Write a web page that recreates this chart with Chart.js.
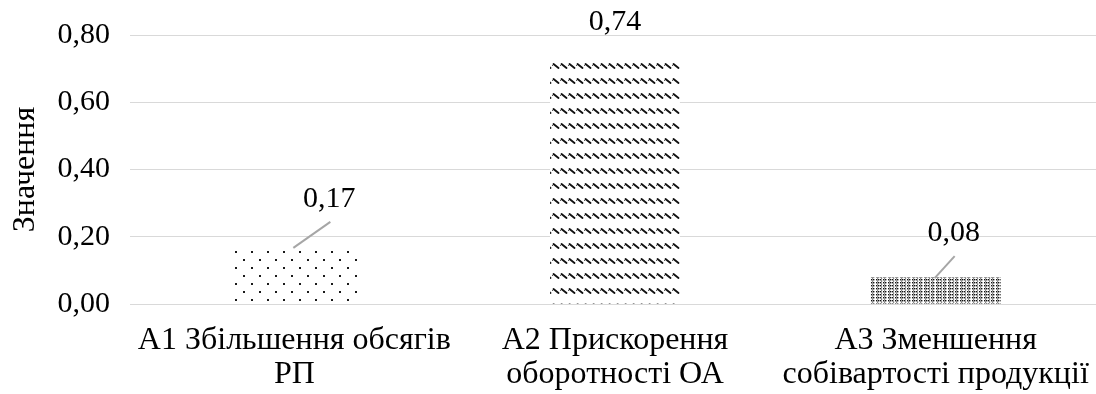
<!DOCTYPE html>
<html>
<head>
<meta charset="utf-8">
<script src="https://cdn.jsdelivr.net/npm/chart.js@4/dist/chart.umd.min.js"></script>
<style>
  html, body { margin: 0; padding: 0; background: #fff; }
  #wrap { width: 1096px; height: 394px; position: relative; }
</style>
</head>
<body>
<div id="wrap"><canvas id="chart" width="1096" height="394"></canvas></div>
<script>
// Categories (two-line labels) and values
const categories = [
  ['А1 Збільшення обсягів', 'РП'],
  ['А2 Прискорення', 'оборотності ОА'],
  ['А3 Зменшення', 'собівартості продукції']
];
const values = [0.17, 0.74, 0.08];
const yTicks = [0, 0.2, 0.4, 0.6, 0.8];
const axisTitle = 'Значення';

const FONT = '"Liberation Serif", "Times New Roman", serif';
const fmt = v => v.toFixed(2).replace('.', ',');

// Hatch fills for each bar
function makePattern(w, h, draw) {
  const c = document.createElement('canvas');
  c.width = w; c.height = h;
  const g = c.getContext('2d');
  g.fillStyle = '#fff';
  g.fillRect(0, 0, w, h);
  draw(g);
  return g.createPattern(c, 'repeat');
}
const ctx = document.getElementById('chart').getContext('2d');

// sparse staggered dots
const dotFill = makePattern(16, 16, g => {
  g.fillStyle = '#1a1a1a';
  g.fillRect(3, 3, 2, 2);
  g.fillRect(11, 11, 2, 2);
});
// rows of short diagonal dashes
const waveFill = makePattern(8, 15.5, g => {
  g.strokeStyle = '#111';
  g.lineWidth = 1.9;
  g.lineCap = 'round';
  g.beginPath();
  g.moveTo(1.5, 4);
  g.lineTo(6.5, 8);
  g.stroke();
  g.fillStyle = '#555';
  g.fillRect(0, 5, 1, 1);
});
// dense dotted columns
const denseFill = makePattern(12, 3, g => {
  g.fillStyle = '#111';
  [0, 2, 4, 7, 9].forEach(x => {
    g.fillRect(x, 0, 1.4, 1.4);
  });
  g.fillStyle = '#555';
  [1, 5, 8].forEach(x => {
    g.fillRect(x, 1.5, 1.2, 1.2);
  });
});
const fills = [dotFill, waveFill, denseFill];

// label placement relative to the top centre of each bar, and whether a leader line is drawn
const labelOffsets = [[35, -48], [0, -33], [18, -44]];
const leaderLines = [true, false, true];

const valueLabels = {
  id: 'valueLabels',
  afterDatasetsDraw(chart) {
    const c = chart.ctx;
    const meta = chart.getDatasetMeta(0);
    meta.data.forEach((bar, i) => {
      const [dx, dy] = labelOffsets[i];
      const lx = bar.x + dx, ly = bar.y + dy;
      if (leaderLines[i]) {
        c.save();
        c.strokeStyle = '#a6a6a6';
        c.lineWidth = 2;
        c.beginPath();
        c.moveTo(bar.x - 1, bar.y + 1);
        c.lineTo(lx + 1, ly + 23);
        c.stroke();
        c.restore();
      }
      c.save();
      c.font = '30px ' + FONT;
      c.fillStyle = '#000';
      c.textAlign = 'center';
      c.textBaseline = 'middle';
      c.fillText(fmt(values[i]), lx, ly);
      c.restore();
    });
  }
};

new Chart(ctx, {
  type: 'bar',
  data: {
    labels: categories,
    datasets: [{
      data: values,
      backgroundColor: fills,
      borderWidth: 0,
      barPercentage: 0.405,
      categoryPercentage: 1
    }]
  },
  options: {
    responsive: false,
    animation: false,
    devicePixelRatio: 1,
    layout: { padding: { top: 35, right: -5, bottom: 0, left: 0 } },
    plugins: {
      legend: { display: false },
      tooltip: { enabled: false }
    },
    scales: {
      x: {
        afterFit(scale) {
          scale.height = 90;
          scale.paddingLeft = 0;
          scale.paddingRight = 0;
        },
        grid: { display: false, drawTicks: false },
        border: { display: true, color: '#d9d9d9', width: 1 },
        ticks: {
          color: '#000',
          font: { family: FONT, size: 32, lineHeight: 1.07 },
          padding: 19,
          maxRotation: 0,
          autoSkip: false
        }
      },
      y: {
        min: 0,
        max: 0.8,
        afterBuildTicks(scale) {
          scale.ticks = yTicks.map(v => ({ value: v }));
        },
        afterFit(scale) {
          scale.width = 134;
          scale.paddingTop = 0;
          scale.paddingBottom = 0;
        },
        grid: { color: '#d9d9d9', lineWidth: 1, drawTicks: true, tickLength: 4 },
        border: { display: false },
        ticks: {
          color: '#000',
          font: { family: FONT, size: 30 },
          padding: 20,
          callback: v => fmt(v)
        },
        title: {
          display: true,
          text: axisTitle,
          color: '#000',
          font: { family: FONT, size: 32, lineHeight: 1.1 },
          padding: { top: 8, bottom: 0 }
        }
      }
    }
  },
  plugins: [valueLabels]
});
</script>
</body>
</html>
